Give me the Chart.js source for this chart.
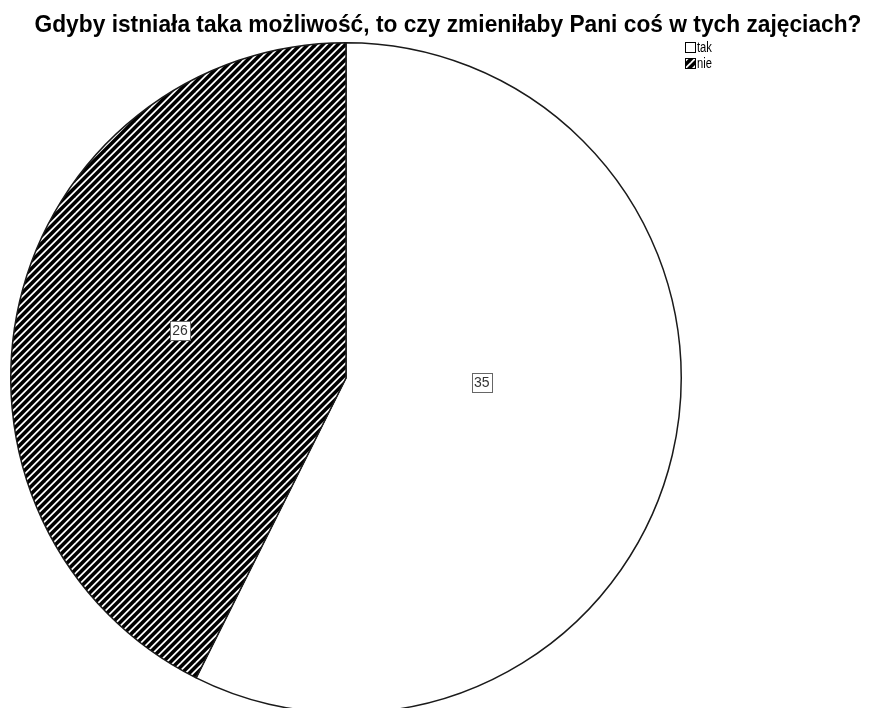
<!DOCTYPE html>
<html>
<head>
<meta charset="utf-8">
<script src="https://cdn.jsdelivr.net/npm/chart.js@4/dist/chart.umd.min.js"></script>
<style>
html,body{margin:0;padding:0;background:#fff;overflow:hidden;}
#wrap{width:880px;height:708px;overflow:hidden;position:relative;}
canvas{display:block;}
</style>
</head>
<body>
<div id="wrap"><canvas id="c" width="880" height="716"></canvas></div>
<script>
const titleText = 'Gdyby istniała taka możliwość, to czy zmieniłaby Pani coś w tych zajęciach?';
const categories = ['tak', 'nie'];
const counts = [35, 26];

// hatch pattern for "nie": diagonal "/" stripes, lines y = c - x
function makeHatch() {
  const p = 7.5, s = 15;
  const c = document.createElement('canvas');
  c.width = s; c.height = s;
  const g = c.getContext('2d');
  g.fillStyle = '#fff';
  g.fillRect(0, 0, s, s);
  g.strokeStyle = '#000';
  g.lineWidth = 3.5;
  for (let k = -1; k <= 5; k++) {
    const cc = k * p;
    g.beginPath();
    g.moveTo(-6, cc + 6);
    g.lineTo(s + 6, cc - s - 6);
    g.stroke();
  }
  return g.createPattern(c, 'repeat');
}
const hatch = makeHatch();
const fills = ['#ffffff', hatch];

// label placement (angle in degrees clockwise from top, fraction of radius)
const labelPlace = [{a: 91.7, f: 0.405}, {a: 286, f: 0.515}];

const overlay = {
  id: 'overlay',
  afterDatasetsDraw(chart) {
    const ctx = chart.ctx;
    const meta = chart.getDatasetMeta(0);
    const arc0 = meta.data[0];
    const cx = arc0.x, cy = arc0.y, r = arc0.outerRadius;
    ctx.save();
    // title
    ctx.font = 'bold 24px "Liberation Sans", Arial, sans-serif';
    ctx.fillStyle = '#000';
    ctx.textAlign = 'center';
    ctx.textBaseline = 'alphabetic';
    ctx.fillText(titleText, 448, 32, 827);
    // value labels
    ctx.font = '14px "Liberation Sans", Arial, sans-serif';
    ctx.textBaseline = 'middle';
    meta.data.forEach((arc, i) => {
      const pl = labelPlace[i];
      const ang = pl.a * Math.PI / 180;
      const x = cx + pl.f * r * Math.sin(ang);
      const y = cy - pl.f * r * Math.cos(ang);
      const t = String(counts[i]);
      const w = Math.round(ctx.measureText(t).width + 4);
      const h = 19;
      const bx = Math.round(x - w / 2) + 0.5, by = Math.round(y - h / 2) + 0.5;
      ctx.fillStyle = '#fff';
      ctx.fillRect(bx, by, w, h);
      ctx.strokeStyle = '#666';
      ctx.lineWidth = 1;
      ctx.strokeRect(bx, by, w, h);
      ctx.fillStyle = '#333';
      ctx.fillText(t, x, y + 1);
    });
    // legend
    const lx = 685, ly = 42, box = 11, gap = 16;
    categories.forEach((lab, i) => {
      const y = ly + i * gap;
      ctx.fillStyle = fills[i];
      ctx.fillRect(lx, y, box, box);
      ctx.strokeStyle = '#000';
      ctx.lineWidth = 1;
      ctx.strokeRect(lx + 0.5, y + 0.5, box - 1, box - 1);
      ctx.save();
      ctx.translate(lx + box + 1, y + box / 2 + 1);
      ctx.scale(0.8, 1);
      ctx.font = '14px "Liberation Sans", Arial, sans-serif';
      ctx.textAlign = 'left';
      ctx.fillStyle = '#000';
      ctx.fillText(lab, 0, 0);
      ctx.restore();
    });
    ctx.restore();
  }
};

new Chart(document.getElementById('c'), {
  type: 'pie',
  data: {
    labels: categories,
    datasets: [{
      data: counts,
      backgroundColor: fills,
      borderColor: '#1a1a1a',
      borderWidth: 1.5,
      borderAlign: 'center'
    }]
  },
  options: {
    responsive: false,
    animation: false,
    devicePixelRatio: 1,
    layout: { padding: { left: 10, right: 198, top: 42, bottom: 2 } },
    plugins: {
      legend: { display: false },
      tooltip: { enabled: false },
      title: { display: false }
    }
  },
  plugins: [overlay]
});
</script>
</body>
</html>
